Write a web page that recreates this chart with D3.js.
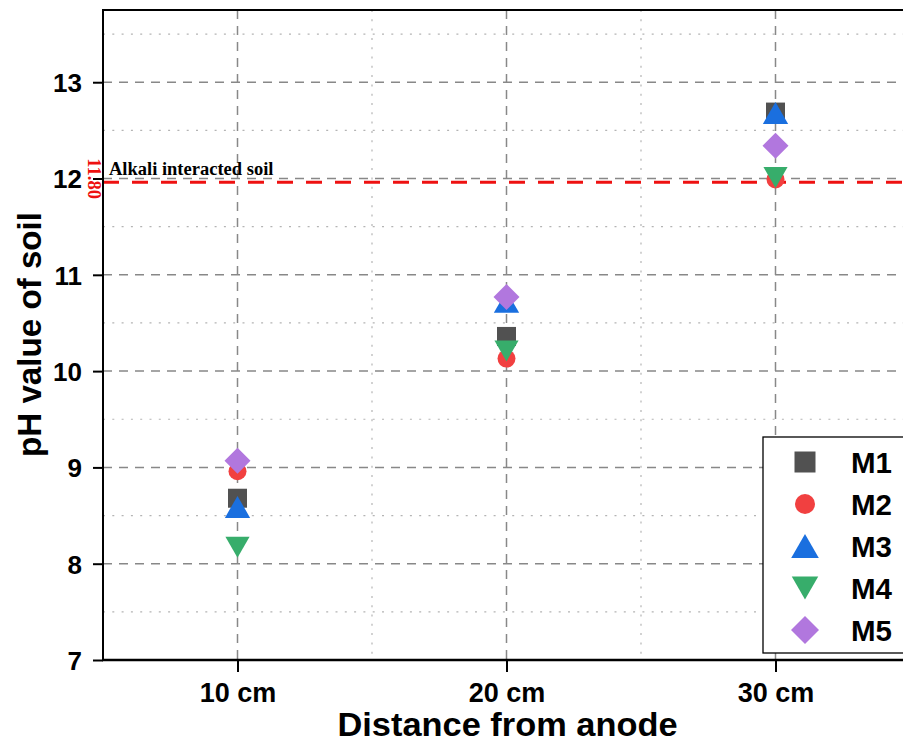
<!DOCTYPE html>
<html>
<head>
<meta charset="utf-8">
<script src="https://cdn.jsdelivr.net/npm/d3@7"></script>
<style>
  html, body { margin: 0; padding: 0; background: #fff; }
  svg { display: block; }
</style>
</head>
<body>
<svg id="chart" width="903" height="743"></svg>
<script>
// ---- data ----
const distances = [10, 20, 30];
const distanceLabels = ["10 cm", "20 cm", "30 cm"];
const seriesNames = ["M1", "M2", "M3", "M4", "M5"];
const m1 = [8.68, 10.36, 12.69];
const m2 = [8.96, 10.13, 11.99];
const m3 = [8.59, 10.72, 12.68];
const m4 = [8.17, 10.21, 12.01];
const m5 = [9.07, 10.77, 12.34];
const yTicks = [7, 8, 9, 10, 11, 12, 13];
const yMinorTicks = [7.5, 8.5, 9.5, 10.5, 11.5, 12.5, 13.5];
const xMinorTicks = [15, 25];
const refLineValue = 11.96;
const refLineLabel = "11.80";
const refLineText = "Alkali interacted soil";

(function () {
const seriesValues = [m1, m2, m3, m4, m5];
const colors = ["#515151", "#F14040", "#1A6FDF", "#37AD6B", "#B177DE"];
const shapes = ["square", "circle", "triangleUp", "triangleDown", "diamond"];

// ---- layout ----
const svg = d3.select("#chart");
const pLeft = 103, pRight = 910, pTop = 10, pBottom = 660;
const x = d3.scaleLinear().domain([5, 35]).range([pLeft, pRight]);
const y = d3.scaleLinear().domain([7, 13.75]).range([pBottom, pTop]);

function shapePath(shape, s) {
  if (shape === "square") { const h = s / 2; return `M${-h},${-h}H${h}V${h}H${-h}Z`; }
  if (shape === "circle") { const r = s / 2; return `M${r},0A${r},${r} 0 1,1 ${-r},0A${r},${r} 0 1,1 ${r},0Z`; }
  if (shape === "triangleUp") { const w = s * 1.15 / 2, h = s / 2; return `M0,${-h}L${w},${h}L${-w},${h}Z`; }
  if (shape === "triangleDown") { const w = s * 1.15 / 2, h = s / 2; return `M0,${h}L${w},${-h}L${-w},${-h}Z`; }
  if (shape === "diamond") { const h = s / 2 + 2.5; return `M0,${-h}L${h},0L0,${h}L${-h},0Z`; }
}
const markerSize = { square: 19, circle: 18, triangleUp: 22, triangleDown: 21, diamond: 21 };

// ---- grid ----
const grid = svg.append("g");
grid.selectAll(".hminor").data(yMinorTicks).enter().append("line")
  .attr("x1", pLeft).attr("x2", pRight).attr("y1", d => y(d)).attr("y2", d => y(d))
  .attr("stroke", "#b4b4b4").attr("stroke-width", 1.2).attr("stroke-dasharray", "2,7.3");
grid.selectAll(".vminor").data(xMinorTicks).enter().append("line")
  .attr("y1", pTop).attr("y2", pBottom).attr("x1", d => x(d)).attr("x2", d => x(d))
  .attr("stroke", "#b4b4b4").attr("stroke-width", 1.2).attr("stroke-dasharray", "2,7.3");
grid.selectAll(".hmajor").data(yTicks.filter(d => d > 7)).enter().append("line")
  .attr("x1", pLeft).attr("x2", pRight).attr("y1", d => y(d)).attr("y2", d => y(d))
  .attr("stroke", "#888").attr("stroke-width", 1.5).attr("stroke-dasharray", "9,7");
grid.selectAll(".vmajor").data(distances).enter().append("line")
  .attr("y1", pTop).attr("y2", pBottom).attr("x1", d => x(d)).attr("x2", d => x(d))
  .attr("stroke", "#888").attr("stroke-width", 1.5).attr("stroke-dasharray", "9,7");

// ---- reference line ----
svg.append("line")
  .attr("x1", pLeft).attr("x2", pRight)
  .attr("y1", y(refLineValue)).attr("y2", y(refLineValue))
  .attr("stroke", "#EE1111").attr("stroke-width", 3).attr("stroke-dasharray", "16,13");
svg.append("text")
  .attr("x", 109).attr("y", y(refLineValue) - 7)
  .attr("font-family", "'Liberation Serif', 'Times New Roman', serif")
  .attr("font-weight", "bold").attr("font-size", 18.5).attr("fill", "#000")
  .text(refLineText);
svg.append("text")
  .attr("transform", `translate(88,${y(refLineValue) - 24}) rotate(90)`)
  .attr("font-family", "'Liberation Serif', 'Times New Roman', serif")
  .attr("font-weight", "bold").attr("font-size", 18.5).attr("fill", "#EE1111")
  .text(refLineLabel);

// ---- axes ----
const yAxis = d3.axisLeft(y).tickValues(yTicks).tickSize(10).tickPadding(11).tickFormat(d3.format("d"));
const gy = svg.append("g").attr("transform", `translate(${pLeft},0)`).call(yAxis);
const xAxis = d3.axisBottom(x).tickValues(distances).tickSize(12).tickPadding(11)
  .tickFormat((d, i) => distanceLabels[i]);
const gx = svg.append("g").attr("transform", `translate(0,${pBottom})`).call(xAxis);
[gx, gy].forEach(g => {
  g.select(".domain").remove();
  g.selectAll(".tick line").attr("stroke", "#000").attr("stroke-width", 2);
  g.selectAll(".tick text").attr("fill", "#000")
    .attr("font-family", "'Liberation Sans', Arial, sans-serif")
    .attr("font-weight", "bold");
});
gy.selectAll(".tick text").attr("font-size", 26).attr("dy", "0.36em");
gx.selectAll(".tick text").attr("font-size", 27).attr("dy", "0.71em");

// frame lines
svg.append("line").attr("x1", pLeft).attr("x2", pLeft).attr("y1", pTop - 1).attr("y2", pBottom + 1)
  .attr("stroke", "#000").attr("stroke-width", 2);
svg.append("line").attr("x1", pLeft - 1).attr("x2", pRight).attr("y1", pBottom).attr("y2", pBottom)
  .attr("stroke", "#000").attr("stroke-width", 2.5);
svg.append("line").attr("x1", pLeft - 1).attr("x2", pRight).attr("y1", pTop).attr("y2", pTop)
  .attr("stroke", "#000").attr("stroke-width", 2);

// ---- points ----
const pts = svg.append("g");
seriesValues.forEach((vals, si) => {
  pts.selectAll(null).data(vals).enter().append("path")
    .attr("transform", (d, i) => `translate(${x(distances[i])},${y(d)})`)
    .attr("d", shapePath(shapes[si], markerSize[shapes[si]]))
    .attr("fill", colors[si]);
});

// ---- legend ----
const lg = svg.append("g");
lg.append("rect").attr("x", 763).attr("y", 437).attr("width", 160).attr("height", 216)
  .attr("fill", "#fff").attr("stroke", "#000").attr("stroke-width", 1.3);
seriesNames.forEach((name, i) => {
  const cy = 462 + 42 * i;
  lg.append("path").attr("transform", `translate(805,${cy})`)
    .attr("d", shapePath(shapes[i], markerSize[shapes[i]] + 2)).attr("fill", colors[i]);
  lg.append("text").attr("x", 851).attr("y", cy + 10.5)
    .attr("font-family", "'Liberation Sans', Arial, sans-serif")
    .attr("font-weight", "bold").attr("font-size", 29.5).attr("fill", "#000")
    .text(name);
});

// ---- axis titles ----
svg.append("text")
  .attr("transform", `translate(41,${(pTop + pBottom) / 2 - 0.5}) rotate(-90)`)
  .attr("text-anchor", "middle")
  .attr("font-family", "'Liberation Sans', Arial, sans-serif")
  .attr("font-weight", "bold").attr("font-size", 32.5).attr("fill", "#000")
  .attr("textLength", 245).attr("lengthAdjust", "spacingAndGlyphs")
  .text("pH value of soil");
svg.append("text")
  .attr("x", 507.5).attr("y", 735.5)
  .attr("text-anchor", "middle")
  .attr("font-family", "'Liberation Sans', Arial, sans-serif")
  .attr("font-weight", "bold").attr("font-size", 32.5).attr("fill", "#000")
  .attr("textLength", 340).attr("lengthAdjust", "spacingAndGlyphs")
  .text("Distance from anode");
})();
</script>
</body>
</html>
